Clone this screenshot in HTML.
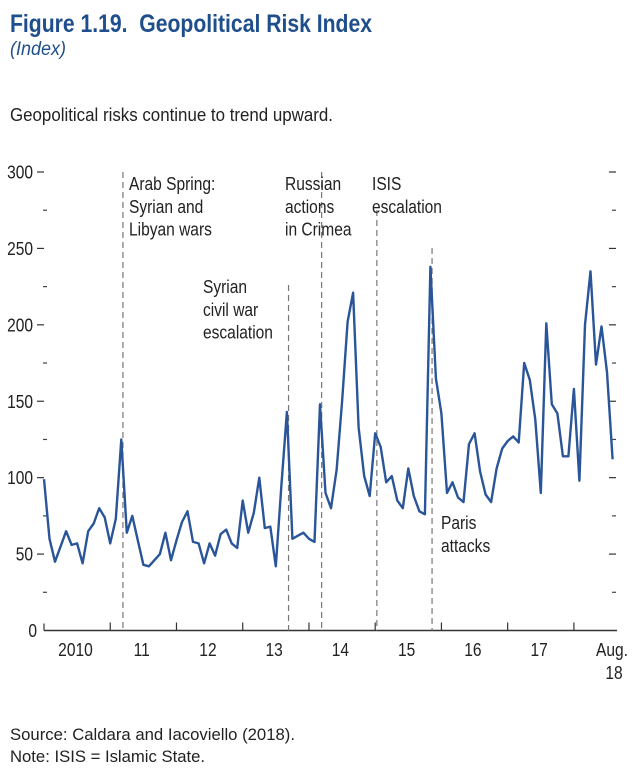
<!DOCTYPE html>
<html><head><meta charset="utf-8"><style>
html,body{margin:0;padding:0;background:#fff;}
svg{display:block;font-family:"Liberation Sans Narrow","Liberation Sans",sans-serif;}
</style></head><body>
<svg id="chart" width="640" height="774" viewBox="0 0 640 774" xmlns="http://www.w3.org/2000/svg">
<text x="10" y="32" font-size="25" font-weight="bold" fill="#1f4e8c" textLength="362" lengthAdjust="spacingAndGlyphs">Figure 1.19.&#160; Geopolitical Risk Index</text>
<text x="10" y="55" font-size="19" font-style="italic" fill="#1f4e8c" textLength="56" lengthAdjust="spacingAndGlyphs">(Index)</text>
<text x="10" y="121" font-size="18" fill="#222" textLength="323" lengthAdjust="spacingAndGlyphs">Geopolitical risks continue to trend upward.</text>
<g id="axes"></g>
<g id="events"></g>
<path id="line" fill="none" stroke="#2a5598" stroke-width="2.4" stroke-linejoin="round"/>
<text x="10" y="740" font-size="17" fill="#222" textLength="285" lengthAdjust="spacingAndGlyphs">Source: Caldara and Iacoviello (2018).</text>
<text x="10" y="762" font-size="17" fill="#222" textLength="195" lengthAdjust="spacingAndGlyphs">Note: ISIS = Islamic State.</text>
</svg>
<script>
const values = [99,60,45,55,65,56,57,44,65,70,80,74,57,73,125,64,75,59,43,42,46,50,64,46,59,71,78,58,57,44,57,49,63,66,
57,54,85,64,77,100,67,68,42,95,143,60,62,64,60,58,148,90,80,105,150,202,221,133,101,88,129,120,97,101,85,
80,106,88,78,76,238,165,142,90,97,87,84,122,129,104,89,84,106,119,124,127,123,175,164,138,90,201,148,142,114,114,158,98,200,235,174,199,169,112];
const yTicks = [0,50,100,150,200,250,300];
const yMinor = [25,75,125,175,225,275];
const yearLabels = ["2010","11","12","13","14","15","16","17"];
const eventMonths = [14.3, 44.3, 50.3, 60.3, 70.3];
const eventTops = [172, 285, 172, 210, 248];
const NS="http://www.w3.org/2000/svg";
const X0=44, MW=5.52, Y0=630.5, YS=458.5/300;
function x(m){return X0+m*MW;}
function y(v){return Y0-v*YS;}
function mk(tag,attrs,parent,txt){const e=document.createElementNS(NS,tag);for(const k in attrs)e.setAttribute(k,attrs[k]);if(txt!==undefined)e.textContent=txt;parent.appendChild(e);return e;}
function tx(px,py,s,parent,anchor){return mk('text',{x:0,y:0,transform:'translate('+px+','+py+') scale(0.84,1)','font-size':18.5,'text-anchor':anchor||'start',fill:'#222'},parent,s);}
const ax=document.getElementById('axes');
yTicks.forEach(v=>{
  if(v>0){
    const t=mk('line',{x1:37,x2:44,y1:y(v),y2:y(v),stroke:'#333','stroke-width':1.2},ax);
    
    
    const r=mk('line',{x1:609,x2:616,y1:y(v),y2:y(v),stroke:'#333','stroke-width':1.2},ax);
    
    
  }
  const l=tx(v===0?37:33,y(v)+6.5,String(v),ax,'end');
  
  
});
yMinor.forEach(v=>{
  const t=mk('line',{x1:43,x2:47,y1:y(v),y2:y(v),stroke:'#444','stroke-width':1.2},ax);
  
  
  const r=mk('line',{x1:612,x2:616,y1:y(v),y2:y(v),stroke:'#444','stroke-width':1.2},ax);
  
  
});
const xa=mk('line',{x1:44,x2:617,y1:Y0,y2:Y0,stroke:'#333','stroke-width':1.5},ax);


const la=mk('line',{x1:44,x2:44,y1:Y0-7,y2:Y0,stroke:'#333','stroke-width':1.2},ax);


for(let i=1;i<=8;i++){
  const t=mk('line',{x1:x(i*12),x2:x(i*12),y1:Y0-8,y2:Y0,stroke:'#333','stroke-width':1.2},ax);
  
  
}
yearLabels.forEach((s,i)=>{
  const t=tx(x(i*12+5.7),656,s,ax,'middle');
  
  
});
const ag=tx(612,656,'Aug.',ax,'middle');


const a18=tx(614,679,'18',ax,'middle');


const ev=document.getElementById('events');
eventMonths.forEach((m,i)=>{
  const l=mk('line',{x1:x(m),x2:x(m),y1:eventTops[i],y2:Y0,stroke:'#777','stroke-width':1.2,'stroke-dasharray':'6,4'},ev);
  
  
});
const notes=[[129,190,["Arab Spring:","Syrian and","Libyan wars"]],[203,293,["Syrian","civil war","escalation"]],[285,190,["Russian","actions","in Crimea"]],[372,190,["ISIS","escalation"]],[441,529,["Paris","attacks"]]];
notes.forEach(n=>{
  n[2].forEach((s,j)=>{
    const t=tx(n[0],n[1]+j*22.8,s,ev);
    
    
  });
});
document.getElementById('line').setAttribute('d',values.map((v,i)=>(i?'L':'M')+x(i).toFixed(1)+','+y(v).toFixed(1)).join(''));
</script>
</body></html>
